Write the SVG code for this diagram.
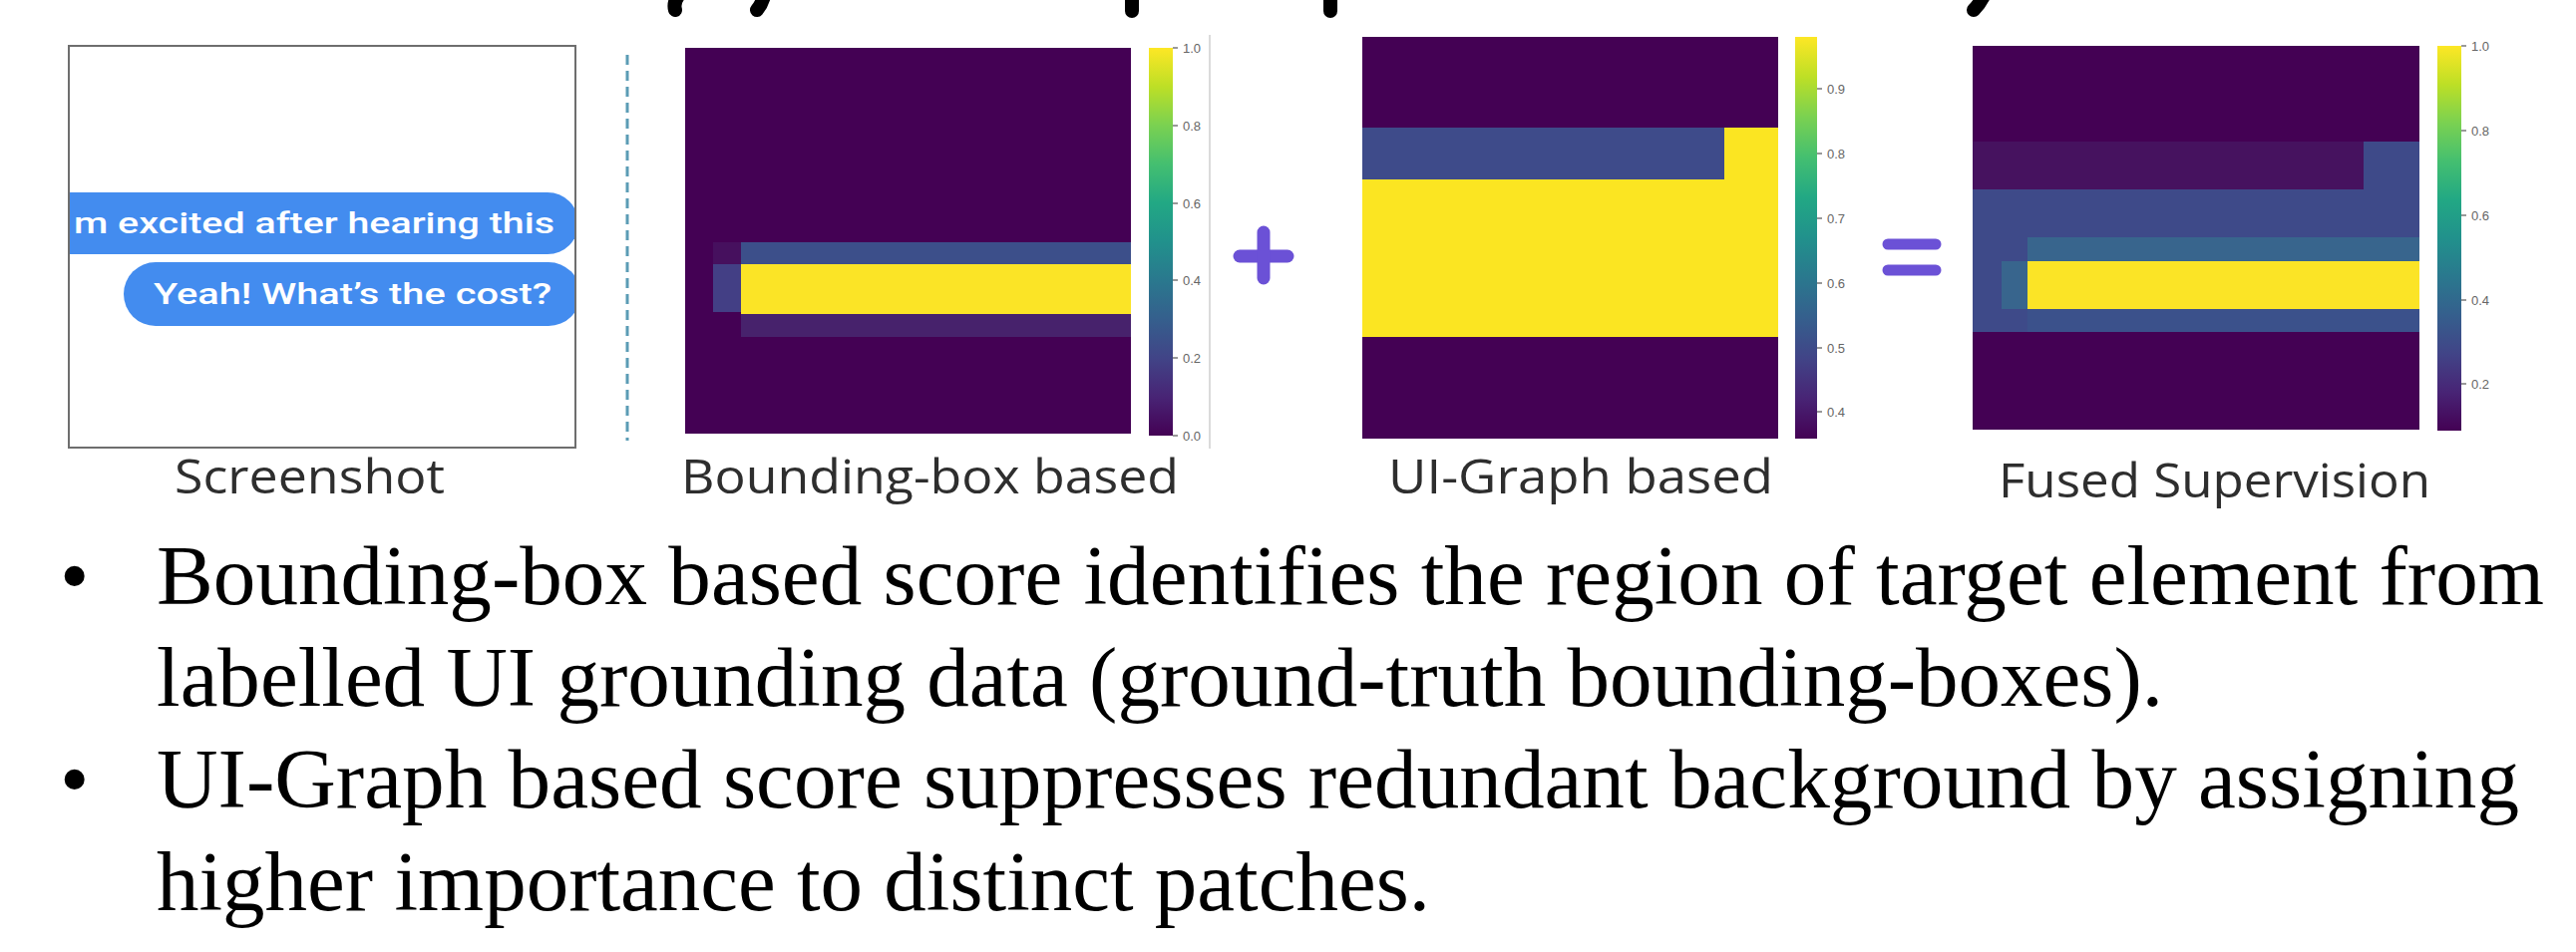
<svg xmlns="http://www.w3.org/2000/svg" width="2583" height="955" viewBox="0 0 2583 955">
  <style>
    .lbl { font-family: "Open Sans", "Liberation Sans", sans-serif; font-weight: 500; font-size: 47px; fill: #2e2e2e; }
    .tick { font-family: "Liberation Sans", sans-serif; font-size: 13px; fill: #666666; }
    .tickmark { stroke: #555555; stroke-width: 1.2; }
    .bul { font-family: "Liberation Serif", "Times New Roman", serif; font-size: 84px; fill: #000000; }
    .chat { font-family: Roboto, "Liberation Sans", sans-serif; font-weight: 500; font-size: 30px; fill: #ffffff; }
    .op { stroke: #6b51d6; stroke-linecap: round; fill: none; }
    .frag { stroke: #000000; stroke-width: 14; stroke-linecap: round; fill: none; }
  </style>
  <defs>
    <!-- viridis colormap, bottom (0) to top (1) -->
    <linearGradient id="viridis" x1="0" y1="1" x2="0" y2="0">
      <stop offset="0" stop-color="#440154"/>
      <stop offset="0.1" stop-color="#482475"/>
      <stop offset="0.2" stop-color="#414487"/>
      <stop offset="0.3" stop-color="#355f8d"/>
      <stop offset="0.4" stop-color="#2a788e"/>
      <stop offset="0.5" stop-color="#21918c"/>
      <stop offset="0.6" stop-color="#22a884"/>
      <stop offset="0.7" stop-color="#44bf70"/>
      <stop offset="0.8" stop-color="#7ad151"/>
      <stop offset="0.9" stop-color="#bddf26"/>
      <stop offset="1" stop-color="#fde725"/>
    </linearGradient>
    <clipPath id="shotClip">
      <rect x="70" y="47" width="506" height="401"/>
    </clipPath>
  </defs>

  <rect width="2583" height="955" fill="#ffffff"/>

  <!-- lower edge of the heading line, cut off by the top border -->
  <g id="title-fragments">
    <path class="frag" d="M680 -4 Q675 3 677 10"/>
    <path class="frag" d="M766 -4 Q764 4 759 10"/>
    <path class="frag" d="M1135 -4 L1135 11"/>
    <path class="frag" d="M1334 -4 L1334 11"/>
    <path class="frag" d="M1989 -4 Q1985 4 1979 10"/>
  </g>

  <!-- chat screenshot -->
  <g id="screenshot">
    <rect x="69" y="46" width="508" height="403" fill="#ffffff" stroke="#6e6e6e" stroke-width="2"/>
    <g clip-path="url(#shotClip)">
      <rect x="30" y="193" width="550" height="62" rx="31" fill="#438cef"/>
      <rect x="124" y="263" width="458" height="64" rx="32" fill="#438cef"/>
    </g>
    <text class="chat" x="74" y="234" textLength="482" lengthAdjust="spacingAndGlyphs">m excited after hearing this</text>
    <text class="chat" x="154" y="305" textLength="399" lengthAdjust="spacingAndGlyphs">Yeah! What’s the cost?</text>
    <text class="lbl" x="175" y="495" textLength="271" lengthAdjust="spacingAndGlyphs">Screenshot</text>
  </g>

  <!-- separator -->
  <g id="separator">
    <line x1="629" y1="55" x2="629" y2="442" stroke="#5b9cb5" stroke-width="3" stroke-dasharray="10 6"/>
  </g>

  <!-- bounding-box based score map -->
  <g id="bbox-map">
    <rect x="687" y="48" width="447" height="387" fill="#440154"/>
    <rect x="715" y="243" width="28" height="22" fill="#46105e"/>
    <rect x="715" y="265" width="28" height="48" fill="#433f85"/>
    <rect x="743" y="243" width="391" height="22" fill="#3c4f8a"/>
    <rect x="743" y="265" width="391" height="50" fill="#fbe426"/>
    <rect x="743" y="315" width="391" height="23" fill="#47226c"/>
    <rect x="1152" y="48" width="24" height="389" fill="url(#viridis)"/>
    <g class="tickmark">
      <line x1="1176" y1="48" x2="1181" y2="48"/>
      <line x1="1176" y1="126" x2="1181" y2="126"/>
      <line x1="1176" y1="204" x2="1181" y2="204"/>
      <line x1="1176" y1="281" x2="1181" y2="281"/>
      <line x1="1176" y1="359" x2="1181" y2="359"/>
      <line x1="1176" y1="437" x2="1181" y2="437"/>
    </g>
    <text class="tick" x="1186" y="53">1.0</text>
    <text class="tick" x="1186" y="131">0.8</text>
    <text class="tick" x="1186" y="209">0.6</text>
    <text class="tick" x="1186" y="286">0.4</text>
    <text class="tick" x="1186" y="364">0.2</text>
    <text class="tick" x="1186" y="442">0.0</text>
    <line x1="1213" y1="35" x2="1213" y2="450" stroke="#cfcfcf" stroke-width="1.5"/>
    <text class="lbl" x="683" y="495" textLength="499" lengthAdjust="spacingAndGlyphs">Bounding-box based</text>
  </g>

  <!-- UI-graph based score map -->
  <g id="graph-map">
    <rect x="1366" y="37" width="417" height="403" fill="#440154"/>
    <rect x="1366" y="128" width="363" height="52" fill="#3e4b8a"/>
    <rect x="1729" y="128" width="54" height="52" fill="#fbe522"/>
    <rect x="1366" y="180" width="417" height="158" fill="#fbe522"/>
    <rect x="1800" y="37" width="22" height="403" fill="url(#viridis)"/>
    <g class="tickmark">
      <line x1="1822" y1="89" x2="1827" y2="89"/>
      <line x1="1822" y1="154" x2="1827" y2="154"/>
      <line x1="1822" y1="219" x2="1827" y2="219"/>
      <line x1="1822" y1="284" x2="1827" y2="284"/>
      <line x1="1822" y1="349" x2="1827" y2="349"/>
      <line x1="1822" y1="413" x2="1827" y2="413"/>
    </g>
    <text class="tick" x="1832" y="94">0.9</text>
    <text class="tick" x="1832" y="159">0.8</text>
    <text class="tick" x="1832" y="224">0.7</text>
    <text class="tick" x="1832" y="289">0.6</text>
    <text class="tick" x="1832" y="354">0.5</text>
    <text class="tick" x="1832" y="418">0.4</text>
    <text class="lbl" x="1392" y="495" textLength="386" lengthAdjust="spacingAndGlyphs">UI-Graph based</text>
  </g>

  <!-- fused supervision map -->
  <g id="fused-map">
    <rect x="1978" y="46" width="448" height="385" fill="#440154"/>
    <rect x="1978" y="142" width="392" height="48" fill="#46125f"/>
    <rect x="2370" y="142" width="56" height="48" fill="#3e4a89"/>
    <rect x="1978" y="190" width="448" height="143" fill="#3e4a89"/>
    <rect x="2033" y="238" width="393" height="24" fill="#38658d"/>
    <rect x="2007" y="262" width="26" height="48" fill="#38658d"/>
    <rect x="2033" y="262" width="393" height="48" fill="#fbe426"/>
    <rect x="2033" y="310" width="393" height="23" fill="#3b518b"/>
    <rect x="2444" y="46" width="24" height="386" fill="url(#viridis)"/>
    <g class="tickmark">
      <line x1="2468" y1="46" x2="2473" y2="46"/>
      <line x1="2468" y1="131" x2="2473" y2="131"/>
      <line x1="2468" y1="216" x2="2473" y2="216"/>
      <line x1="2468" y1="301" x2="2473" y2="301"/>
      <line x1="2468" y1="385" x2="2473" y2="385"/>
    </g>
    <text class="tick" x="2478" y="51">1.0</text>
    <text class="tick" x="2478" y="136">0.8</text>
    <text class="tick" x="2478" y="221">0.6</text>
    <text class="tick" x="2478" y="306">0.4</text>
    <text class="tick" x="2478" y="390">0.2</text>
    <text class="lbl" x="2004" y="499" textLength="433" lengthAdjust="spacingAndGlyphs">Fused Supervision</text>
  </g>

  <!-- plus and equals operators between the maps -->
  <g id="operators">
    <line class="op" x1="1243" y1="257" x2="1291" y2="257" stroke-width="13"/>
    <line class="op" x1="1267" y1="233" x2="1267" y2="279" stroke-width="13"/>
    <line class="op" x1="1893" y1="245" x2="1941" y2="245" stroke-width="11"/>
    <line class="op" x1="1893" y1="271" x2="1941" y2="271" stroke-width="11"/>
  </g>

  <!-- explanatory bullet points -->
  <g id="notes">
    <text class="bul" x="60" y="606">•</text>
    <text class="bul" x="157" y="606" textLength="2394" lengthAdjust="spacingAndGlyphs">Bounding-box based score identifies the region of target element from</text>
    <text class="bul" x="157" y="708" textLength="2012" lengthAdjust="spacingAndGlyphs">labelled UI grounding data (ground-truth bounding-boxes).</text>
    <text class="bul" x="60" y="810">•</text>
    <text class="bul" x="157" y="810" textLength="2369" lengthAdjust="spacingAndGlyphs">UI-Graph based score suppresses redundant background by assigning</text>
    <text class="bul" x="157" y="913" textLength="1277" lengthAdjust="spacingAndGlyphs">higher importance to distinct patches.</text>
  </g>
</svg>
